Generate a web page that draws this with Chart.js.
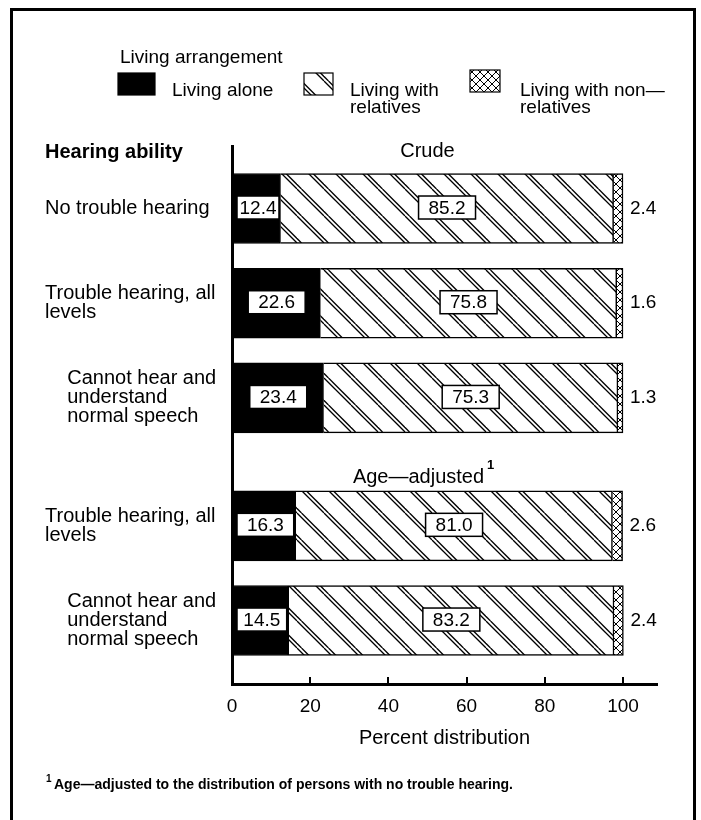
<!DOCTYPE html>
<html>
<head>
<meta charset="utf-8">
<title>Living arrangement by hearing ability</title>
<script src="https://cdn.jsdelivr.net/npm/chart.js@4.4.1/dist/chart.umd.min.js"></script>
<style>
  body { margin: 0; background: #fff; }
  #wrap { width: 701px; height: 820px; }
</style>
</head>
<body>
<div id="wrap"><canvas id="chart" width="701" height="820"></canvas></div>
<script>
// data
const rowLabels = [
  ['No trouble hearing'],
  ['Trouble hearing, all', 'levels'],
  ['Cannot hear and', 'understand', 'normal speech'],
  ['Trouble hearing, all', 'levels'],
  ['Cannot hear and', 'understand', 'normal speech']
];
const livingAlone = [12.4, 22.6, 23.4, 16.3, 14.5];
const withRelatives = [85.2, 75.8, 75.3, 81.0, 83.2];
const withNonRelatives = [2.4, 1.6, 1.3, 2.6, 2.4];
const seriesNames = [['Living alone'], ['Living with', 'relatives'], ['Living with non\u2014', 'relatives']];
const xTicks = [0, 20, 40, 60, 80, 100];
const groupTitles = ['Crude', 'Age\u2014adjusted'];

// layout: where the rows sit on the (linear) y scale, extra gap before the age-adjusted group
const rowPos = [1, 2, 3, 4.35, 5.35];
const indentRows = [2, 4];

const FONT = "'Liberation Sans', Arial, Helvetica, sans-serif";
Chart.defaults.font.family = FONT;
Chart.defaults.color = '#000';

function hatchPattern() {
  const s = 27;
  const c = document.createElement('canvas');
  c.width = s; c.height = s;
  const g = c.getContext('2d');
  g.fillStyle = '#fff';
  g.fillRect(0, 0, s, s);
  g.strokeStyle = '#000';
  g.lineWidth = 1.3;
  for (const off of [0, 4.5]) {
    for (const sh of [-s, 0, s]) {
      g.beginPath();
      g.moveTo(off + sh, 0);
      g.lineTo(off + sh + s, s);
      g.stroke();
    }
  }
  return g.createPattern(c, 'repeat');
}

function crossPattern() {
  const s = 8;
  const c = document.createElement('canvas');
  c.width = s; c.height = s;
  const g = c.getContext('2d');
  g.fillStyle = '#fff';
  g.fillRect(0, 0, s, s);
  g.strokeStyle = '#000';
  g.lineWidth = 1;
  g.beginPath();
  g.moveTo(0, 0); g.lineTo(s, s);
  g.moveTo(0, s); g.lineTo(s, 0);
  g.stroke();
  return g.createPattern(c, 'repeat');
}

const fills = ['#000', hatchPattern(), crossPattern()];

function points(values) {
  return values.map((v, i) => ({ x: v, y: rowPos[i] }));
}

// frame, legend, titles, value boxes, footnote
const decorations = {
  id: 'decorations',
  beforeDraw(chart) {
    const ctx = chart.ctx;
    ctx.save();
    ctx.strokeStyle = '#000';
    ctx.lineWidth = 3;
    ctx.strokeRect(11.5, 9.5, 683, 900);
    ctx.restore();
  },
  afterDatasetsDraw(chart) {
    const ctx = chart.ctx;
    ctx.save();
    ctx.font = '19px ' + FONT;
    ctx.textBaseline = 'middle';
    chart.data.datasets.forEach((ds, di) => {
      const meta = chart.getDatasetMeta(di);
      meta.data.forEach((el, i) => {
        const txt = ds.data[i].x.toFixed(1);
        if (di === 2) {
          ctx.fillStyle = '#000';
          ctx.textAlign = 'left';
          ctx.fillText(txt, el.x + 7, el.y);
          return;
        }
        const seg = el.x - el.base;
        let w = ctx.measureText(txt).width + 20;
        let left = el.base + seg / 2 - w / 2;
        // narrow black segments: box squeezed in from the left
        if (di === 0 && w > seg - 6) {
          w = Math.max(seg - 6, ctx.measureText(txt).width + 5);
          left = el.base + 4;
        }
        const h = 23;
        const top = el.y - h / 2 - 1;
        ctx.fillStyle = '#fff';
        ctx.fillRect(left, top, w, h);
        ctx.strokeStyle = '#000';
        ctx.lineWidth = 1.5;
        ctx.strokeRect(left, top, w, h);
        ctx.fillStyle = '#000';
        ctx.textAlign = 'center';
        ctx.fillText(txt, left + w / 2, el.y);
      });
    });
    ctx.restore();
  },
  afterDraw(chart) {
    const ctx = chart.ctx;
    const xs = chart.scales.x;
    const ys = chart.scales.y;
    ctx.save();
    ctx.fillStyle = '#000';
    ctx.textBaseline = 'middle';

    // legend
    ctx.font = '19px ' + FONT;
    ctx.textAlign = 'left';
    ctx.fillText('Living arrangement', 120, 58);
    const boxes = [[118, 73, 37, 22], [304, 73, 29, 22], [470, 70, 30, 22]];
    const textX = [172, 350, 520];
    seriesNames.forEach((lines, i) => {
      const [bx, by, bw, bh] = boxes[i];
      ctx.fillStyle = chart.data.datasets[i].backgroundColor;
      ctx.fillRect(bx, by, bw, bh);
      ctx.strokeStyle = '#000';
      ctx.lineWidth = 1.2;
      ctx.strokeRect(bx, by, bw, bh);
      ctx.fillStyle = '#000';
      lines.forEach((ln, k) => ctx.fillText(ln, textX[i], 91 + k * 17));
    });

    // column header + group titles
    ctx.font = 'bold 20px ' + FONT;
    ctx.fillText('Hearing ability', 45, 152);
    ctx.font = '20px ' + FONT;
    ctx.textAlign = 'center';
    const cx = xs.getPixelForValue(50);
    ctx.fillText(groupTitles[0], cx, 151);
    const ay = ys.getPixelForValue(rowPos[3]) - 48;
    const tw = ctx.measureText(groupTitles[1]).width;
    ctx.fillText(groupTitles[1], cx - 9, ay);
    ctx.font = 'bold 13px ' + FONT;
    ctx.textAlign = 'left';
    ctx.fillText('1', cx - 9 + tw / 2 + 3, ay - 12);

    // footnote
    ctx.font = 'bold 10px ' + FONT;
    ctx.fillText('1', 46, 779);
    ctx.font = 'bold 14px ' + FONT;
    ctx.fillText('Age\u2014adjusted to the distribution of persons with no trouble hearing.', 54, 785);
    ctx.restore();
  }
};

new Chart(document.getElementById('chart'), {
  type: 'bar',
  data: {
    datasets: [
      { label: 'Living alone', data: points(livingAlone), backgroundColor: fills[0], borderColor: '#000', borderWidth: 1 },
      { label: 'Living with relatives', data: points(withRelatives), backgroundColor: fills[1], borderColor: '#000', borderWidth: 1.5 },
      { label: 'Living with non-relatives', data: points(withNonRelatives), backgroundColor: fills[2], borderColor: '#000', borderWidth: 1.5 }
    ]
  },
  options: {
    indexAxis: 'y',
    responsive: false,
    animation: false,
    barThickness: 70,
    layout: { padding: { left: 45, top: 146, right: 44, bottom: 70 } },
    plugins: { legend: { display: false }, tooltip: { enabled: false } },
    scales: {
      x: {
        type: 'linear',
        min: 0,
        max: 108.7,
        stacked: true,
        afterBuildTicks: s => { s.ticks = xTicks.map(v => ({ value: v })); },
        afterFit: s => { s.height = 66; },
        ticks: { font: { size: 19 }, color: '#000', padding: 18, maxRotation: 0 },
        grid: { drawOnChartArea: false, tickLength: -7, color: '#000', lineWidth: 2 },
        border: { color: '#000', width: 3 },
        title: { display: true, text: 'Percent distribution', font: { size: 20 }, color: '#000', padding: 0 }
      },
      y: {
        type: 'linear',
        reverse: true,
        offset: false,
        min: 0.34,
        max: 6.02,
        stacked: true,
        afterBuildTicks: s => { s.ticks = rowPos.map(v => ({ value: v })); },
        afterFit: s => { s.width = 187; },
        ticks: {
          crossAlign: 'far',
          font: { size: 20, lineHeight: 0.95 },
          color: '#000',
          callback: (v, i) => rowLabels[i].map(ln => (indentRows.includes(i) ? '    ' : '') + ln)
        },
        grid: { display: false, drawTicks: false },
        border: { color: '#000', width: 3 }
      }
    }
  },
  plugins: [decorations]
});
</script>
</body>
</html>
